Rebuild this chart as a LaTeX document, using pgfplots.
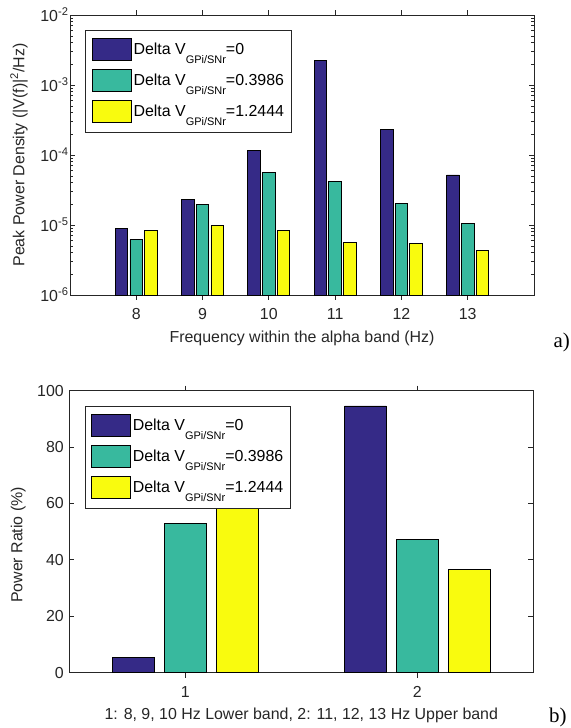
\documentclass[border=0pt]{standalone}
\usepackage{fontspec}
\setmainfont{Liberation Sans}
\newfontfamily\serifface{Liberation Serif}
\usepackage{pgfplots}
\pgfplotsset{compat=1.18}

\definecolor{parblue}{RGB}{53,42,135}
\definecolor{parteal}{RGB}{56,185,158}
\definecolor{paryellow}{RGB}{249,251,14}
\definecolor{axgray}{RGB}{38,38,38}

% legend text: MATLAB-like low subscript
\newcommand{\dv}[1]{Delta V\raisebox{-9bp}{\fontsize{11}{11}\selectfont GPi/SNr}=#1}

\pgfplotsset{
  matlab/.style={
    scale only axis, width=464bp, anchor=south west, clip=false,
    ybar,
    axis line style={axgray, line width=0.8bp},
    every tick/.style={axgray, line width=0.8bp},
    major tick length=5bp, minor tick length=3bp,
    tick label style={font=\fontsize{16}{19}\selectfont, text=axgray},
    label style={font=\fontsize{16}{19}\selectfont, text=axgray},
    /pgf/number format/assume math mode=true,
    legend cell align=left,
    legend style={at={(axis description cs:0.033,0.945)}, anchor=north west,
      draw=axgray, line width=0.8bp,
      font=\fontsize{16}{19}\selectfont, text=black, row sep=6bp,
      inner xsep=6bp, inner ysep=7bp,
      nodes={inner xsep=1bp, inner ysep=0bp, text height=13.7bp, text depth=8.3bp},
      /tikz/every odd column/.append style={column sep=1bp}},
    legend image code/.code={\draw[#1, draw=black, line width=0.8bp] (0bp,-8.3bp) rectangle (39bp,13.7bp);},
    xticklabel style={yshift=-5bp},
    xlabel style={at={(axis description cs:0.5,0)}, anchor=base, yshift=-47bp},
  },
  bars/.style={fill=#1, draw=black, line width=0.8bp},
}

\begin{document}
\begin{tikzpicture}
\useasboundingbox (0,0) rectangle (571bp,728bp);

% a) peak power density, log scale
\begin{axis}[matlab,
  at={(70bp,433bp)}, height=280bp,
  ymode=log, log basis y=10, log origin y=infty,
  ymin=1e-6, ymax=1e-2,
  xmin=7, xmax=14, xtick={8,9,10,11,12,13},
  bar width=0.19,
  ytick={1e-6,1e-5,1e-4,1e-3,1e-2},
  yticklabels={10\textsuperscript{-6},10\textsuperscript{-5},10\textsuperscript{-4},10\textsuperscript{-3},10\textsuperscript{-2}},
  minor ytick={2e-6,3e-6,4e-6,5e-6,6e-6,7e-6,8e-6,9e-6,
    2e-5,3e-5,4e-5,5e-5,6e-5,7e-5,8e-5,9e-5,
    2e-4,3e-4,4e-4,5e-4,6e-4,7e-4,8e-4,9e-4,
    2e-3,3e-3,4e-3,5e-3,6e-3,7e-3,8e-3,9e-3},
  yticklabel style={xshift=2bp},
  xlabel={Frequency within the alpha band (Hz)},
  ylabel={Peak Power Density (|V(f)|\textsuperscript{2}/Hz)},
  ylabel style={at={(axis description cs:-0.11,0.5)}, anchor=center},
]
\addplot[bars=parblue, bar shift=-0.222] coordinates {
  (8,9.0e-6) (9,2.33e-5) (10,1.17e-4) (11,2.25e-3) (12,2.33e-4) (13,5.18e-5)};
\addplot[bars=parteal, bar shift=0] coordinates {
  (8,6.25e-6) (9,1.98e-5) (10,5.59e-5) (11,4.15e-5) (12,2.04e-5) (13,1.06e-5)};
\addplot[bars=paryellow, bar shift=0.222] coordinates {
  (8,8.48e-6) (9,9.9e-6) (10,8.4e-6) (11,5.66e-6) (12,5.41e-6) (13,4.35e-6)};
\legend{\dv{0},\dv{0.3986},\dv{1.2444}}
\node[font=\serifface\fontsize{21}{23}\selectfont] at (axis description cs:1.06,-0.17) {a)};
\end{axis}

% b) power ratio per band
\begin{axis}[matlab,
  at={(69.3bp,55.3bp)}, height=282bp,
  ymin=0, ymax=100, ytick={0,20,40,60,80,100},
  xmin=0.5, xmax=2.5, xtick={1,2},
  bar width=0.18,
  yticklabel style={xshift=-2bp},
  xlabel={1: 8, 9, 10 Hz Lower band, 2: 11, 12, 13 Hz Upper band},
  ylabel={Power Ratio (\%)},
  ylabel style={at={(axis description cs:-0.11,0.453)}, anchor=center},
]
\addplot[bars=parblue, bar shift=-0.223] coordinates {(1,5.5) (2,94.6)};
\addplot[bars=parteal, bar shift=0] coordinates {(1,53.0) (2,47.1)};
\addplot[bars=paryellow, bar shift=0.223] coordinates {(1,63.3) (2,36.7)};
\legend{\dv{0},\dv{0.3986},\dv{1.2444}}
\node[font=\serifface\fontsize{21}{23}\selectfont] at (axis description cs:1.053,-0.157) {b)};
\end{axis}
\end{tikzpicture}
\end{document}
